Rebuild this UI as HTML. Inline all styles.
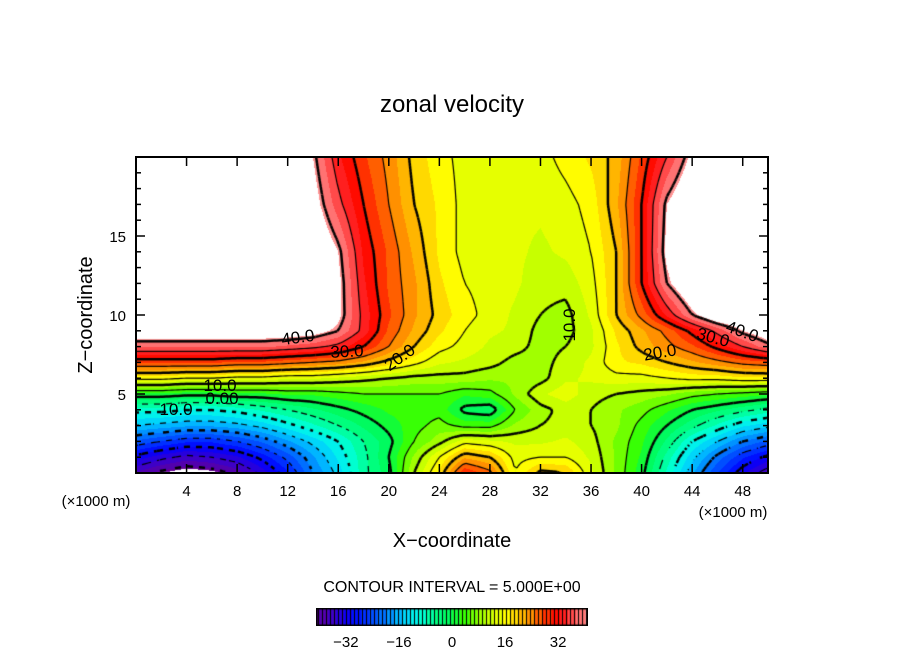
<!DOCTYPE html>
<html><head><meta charset="utf-8"><style>
html,body{margin:0;padding:0;background:#fff;}
#wrap{position:relative;width:904px;height:654px;overflow:hidden;font-family:"Liberation Sans",sans-serif;}
canvas{position:absolute;}
svg{position:absolute;left:0;top:0;}
</style></head><body>
<div id="wrap">
<canvas id="plot" width="632" height="316" style="left:136px;top:157px"></canvas>
<canvas id="cbar" width="272" height="18" style="left:316px;top:608px"></canvas>
<svg id="ax" width="904" height="654"></svg>
</div>
<script>
// ---- data ----
const xCols = [0,2,4,6,8,10,12,14,16,18,20,22,24,26,28,30,32,34,36,38,40,42,44,46,48,50];
const zRows = [0,1,2,3,4,5,6,7,8,9,10,12,14,17,20];
const u_z0  = [-38,-41,-43,-42,-39,-34,-28,-20,-14,-6,-1,10,18,30,26,15,21,20,13,7,1,-8,-17,-25,-32,-37];
const u_z1  = [-31,-34,-36,-35,-33,-29,-24,-18,-12,-6,0,8,15,22,20,14,15,15,12,7,2,-6,-14,-21,-27,-31];
const u_z2  = [-23,-25,-27,-27,-25,-22,-18,-14,-10,-5,-1,5,9,14,13,12,12,13,11,7,3,-3,-10,-15,-20,-23];
const u_z3  = [-15,-16,-17,-17,-16,-14,-11,-8,-5,-2,1,4,6,4,4,8,10,11,10,8,4,0,-4,-8,-12,-14];
const u_z4  = [-9,-9,-10,-10,-9,-7,-5,-3,-1,1,3,4,4,-1,-2,5,9,11,10,8,6,3,0,-2,-4,-6];
const u_z5  = [2,2,1,1,2,2,3,3,4,5,5,5,5,3,4,8,12,14,11,10,9,8,6,5,4,3];
const u_z6  = [16,16,15,15,14,14,13,13,12,11,10,9,9,9,8,8,9,12,13,14,14,15,16,16,17,17];
const u_z7  = [28,28,28,28,27,27,26,25,24,22,19,16,13,12,11,9,9,11,13,17,18,20,22,24,26,27];
const u_z8  = [38,38,38,38,38,38,37,36,34,30,25,20,16,14,12,11,9,10,12,17,21,24,27,31,35,39];
const u_z9  = [44,44,44,44,44,44,44,43,40,34,27,22,18,15,13,12,9,9,12,18,22,26,31,36,41,44];
const u_z10 = [46,46,46,46,46,46,46,46,42,34,28,23,19,16,14,12,10,9,13,20,26,33,40,45,46,46];
const u_z12 = [46,46,46,46,46,46,46,46,42,33,27,23,18,15,14,13,11,11,14,20,30,40,46,46,46,46];
const u_z14 = [46,46,46,46,46,46,46,46,41,32,27,22,17,14,13,13,12,13,15,20,30,42,46,46,46,46];
const u_z17 = [46,46,46,46,46,46,46,43,36,30,25,20,17,14,13,13,13,14,16,22,30,41,46,46,46,46];
const u_z20 = [46,46,46,46,46,46,46,41,33,28,24,19,16,14,13,13,14,16,18,21,28,35,42,46,46,46];
const uField = [u_z0,u_z1,u_z2,u_z3,u_z4,u_z5,u_z6,u_z7,u_z8,u_z9,u_z10,u_z12,u_z14,u_z17,u_z20];
const xTicks = [4,8,12,16,20,24,28,32,36,40,44,48];
const zTicks = [5,10,15];
const cbarTicks = [-32,-16,0,16,32];
const contourLevels = [-40,-35,-30,-25,-20,-15,-10,-5,0,5,10,15,20,25,30,35,40];

// ---- scales ----
const PX0=136, PX1=768, PY0=157, PY1=473;
const X0=0, X1=50, Z0=0, Z1=20;
const VMIN=-41, VMAX=41;
function sx(x){return PX0+(x-X0)/(X1-X0)*(PX1-PX0);}
function sz(z){return PY1-(z-Z0)/(Z1-Z0)*(PY1-PY0);}
function cbx(v){return 316+(v-VMIN)/(VMAX-VMIN)*272;}

function field(x,z){
  let i=Math.min(xCols.length-2,Math.max(0,Math.floor((x-xCols[0])/(xCols[1]-xCols[0]))));
  let tx=(x-xCols[i])/(xCols[i+1]-xCols[i]); tx=Math.max(0,Math.min(1,tx));
  let j=0; while(j<zRows.length-2 && z>zRows[j+1]) j++;
  let tz=(z-zRows[j])/(zRows[j+1]-zRows[j]); tz=Math.max(0,Math.min(1,tz));
  const a=uField[j][i], b=uField[j][i+1], c=uField[j+1][i], d=uField[j+1][i+1];
  return (a*(1-tx)+b*tx)*(1-tz)+(c*(1-tx)+d*tx)*tz;
}
const cmapStops=[[-41,[100,0,150]],[-36,[60,0,200]],[-30,[0,0,255]],[-22,[0,100,255]],[-15,[0,200,255]],[-10,[0,255,230]],[-5,[0,255,140]],[0,[0,250,80]],[4,[60,255,0]],[8,[150,255,0]],[12,[210,255,0]],[16,[255,255,0]],[20,[255,200,0]],[24,[255,140,0]],[28,[255,60,0]],[32,[255,0,0]],[36,[255,70,70]],[41,[255,150,150]]];
function cmap(v){
  if(v<=cmapStops[0][0]) return cmapStops[0][1];
  for(let k=0;k<cmapStops.length-1;k++){
    const [v0,c0]=cmapStops[k],[v1,c1]=cmapStops[k+1];
    if(v<=v1){const t=(v-v0)/(v1-v0);return [0,1,2].map(m=>Math.round(c0[m]+(c1[m]-c0[m])*t));}
  }
  return cmapStops[cmapStops.length-1][1];
}
function qcol(v){return cmap(Math.floor(v/2.5)*2.5+1.25);}

// ---- filled field ----
const cv=document.getElementById('plot'), ctx=cv.getContext('2d');
const W=cv.width,H=cv.height, img=ctx.createImageData(W,H);
for(let py=0;py<H;py++){for(let px=0;px<W;px++){
  const x=X0+(px+0.5)/W*(X1-X0), z=Z1-(py+0.5)/H*(Z1-Z0);
  const v=field(x,z); const o=(py*W+px)*4;
  let c=(v>VMAX||v<VMIN)?[255,255,255]:qcol(v);
  img.data[o]=c[0];img.data[o+1]=c[1];img.data[o+2]=c[2];img.data[o+3]=255;
}}
ctx.putImageData(img,0,0);

// ---- contour lines (marching squares) ----
const st=3, nx=Math.ceil(W/st)+1, ny=Math.ceil(H/st)+1, G=[];
for(let j=0;j<ny;j++){G[j]=[];for(let i=0;i<nx;i++){
  const px=Math.min(W,i*st), py=Math.min(H,j*st);
  G[j][i]=field(X0+px/W*(X1-X0), Z1-py/H*(Z1-Z0));
}}
contourLevels.forEach(L=>{
  ctx.strokeStyle='#000'; ctx.lineWidth=(L%10===0)?2.5:1.2;
  for(let j=0;j<ny-1;j++)for(let i=0;i<nx-1;i++){
    if(L<0 && ((i+j)>>1)%2===1) continue;
    const p=[[i*st,j*st,G[j][i]],[(i+1)*st,j*st,G[j][i+1]],[(i+1)*st,(j+1)*st,G[j+1][i+1]],[i*st,(j+1)*st,G[j+1][i]]];
    const pts=[];
    for(let e=0;e<4;e++){const A=p[e],B=p[(e+1)%4];
      if((A[2]<L)!==(B[2]<L)){const t=(L-A[2])/(B[2]-A[2]);pts.push([A[0]+(B[0]-A[0])*t,A[1]+(B[1]-A[1])*t]);}}
    ctx.beginPath();
    for(let k=0;k+1<pts.length;k+=2){ctx.moveTo(pts[k][0],pts[k][1]);ctx.lineTo(pts[k+1][0],pts[k+1][1]);}
    ctx.stroke();
  }
});

// ---- colorbar ----
const cb=document.getElementById('cbar'), cc=cb.getContext('2d');
for(let px=0;px<272;px++){const v=VMIN+(px+0.5)/272*(VMAX-VMIN);const c=qcol(v);cc.fillStyle=`rgb(${c[0]},${c[1]},${c[2]})`;cc.fillRect(px,0,1,18);}
cc.fillStyle='#000';for(let px=2;px<272;px+=4){cc.fillRect(px,0,1,18);}
cc.lineWidth=3;cc.strokeRect(0,0,272,18);

// ---- axes/text ----
const svg=document.getElementById('ax'), NS='http://www.w3.org/2000/svg';
function mk(tag,attrs,text){const e=document.createElementNS(NS,tag);for(const k in attrs)e.setAttribute(k,attrs[k]);if(text!==undefined)e.textContent=text;svg.appendChild(e);return e;}
let e;
e=mk('rect',{x:PX0,y:PY0,width:PX1-PX0,height:PY1-PY0,fill:'none',stroke:'#000','stroke-width':2});


for(let x=1;x<50;x++){const major=x%4===0;const len=major?9:0;if(!len)continue;
  e=mk('line',{x1:sx(x),x2:sx(x),y1:PY1,y2:PY1-len,stroke:'#000','stroke-width':1.5});
  
  
  e=mk('line',{x1:sx(x),x2:sx(x),y1:PY0,y2:PY0+len,stroke:'#000','stroke-width':1.5});
  
  }
for(let z=1;z<20;z++){const len=z%5===0?9:5;
  e=mk('line',{x1:PX0,x2:PX0+len,y1:sz(z),y2:sz(z),stroke:'#000','stroke-width':1.5});
  
  
  e=mk('line',{x1:PX1,x2:PX1-len,y1:sz(z),y2:sz(z),stroke:'#000','stroke-width':1.5});
  
  }
xTicks.forEach(t=>{e=mk('text',{x:sx(t),y:496,'font-size':15,'text-anchor':'middle'},String(t));
  
  });
zTicks.forEach(t=>{e=mk('text',{x:126,y:sz(t)+6,'font-size':15,'text-anchor':'end'},String(t));
  
  });
cbarTicks.forEach(t=>{e=mk('text',{x:cbx(t),y:647,'font-size':15,'text-anchor':'middle'},(t<0?'\u2212':'')+Math.abs(t));
  
  });
e=mk('text',{x:452,y:112,'font-size':24,'text-anchor':'middle'},'zonal velocity');


e=mk('text',{x:452,y:547,'font-size':20,'text-anchor':'middle'},'X\u2212coordinate');


e=mk('text',{x:0,y:0,'font-size':20,'text-anchor':'middle',transform:'translate(92,315) rotate(-90)'},'Z\u2212coordinate');


e=mk('text',{x:96,y:506,'font-size':15,'text-anchor':'middle'},'(\u00d71000 m)');


e=mk('text',{x:733,y:517,'font-size':15,'text-anchor':'middle'},'(\u00d71000 m)');


e=mk('text',{x:452,y:592,'font-size':16,'text-anchor':'middle'},'CONTOUR INTERVAL = 5.000E+00');


const clabels=[['40.0',298,343,-8],['30.0',347,357,-3],['20.0',400,363,-35],['10.0',220,391,0],['0.00',222,404,0],['10.0',176,415,0],['10.0',570,330,-90],['20.0',660,358,-10],['30.0',713,343,15],['40.0',742,337,20]];
clabels.forEach(l=>{e=mk('text',{x:l[1],y:l[2],'font-size':17,'text-anchor':'middle',transform:`rotate(${l[3]} ${l[1]} ${l[2]-5})`},l[0]);
  
  });
</script>
</body></html>
